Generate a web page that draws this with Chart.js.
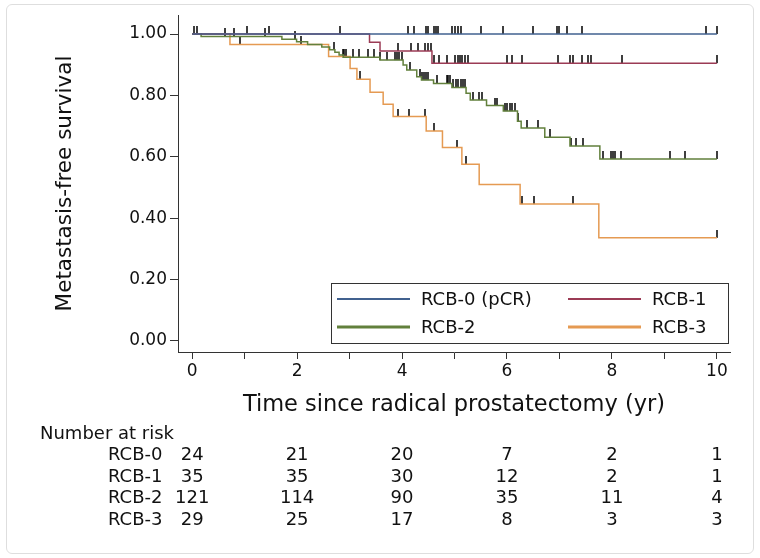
<!DOCTYPE html>
<html>
<head>
<meta charset="utf-8">
<script src="https://cdn.jsdelivr.net/npm/chart.js@4"></script>
<style>
    html, body { margin: 0; padding: 0; background: #fff; }
    #wrap { position: relative; width: 760px; height: 558px; }
    #c { position: absolute; left: 0; top: 0; }
    #frame { position: absolute; left: 6px; top: 4px; width: 746px; height: 548px;
             border: 1px solid #dedede; border-radius: 6px; pointer-events: none; }
</style>
</head>
<body>
<div id="wrap">
    <canvas id="c" width="760" height="558"></canvas>
    <div id="frame"></div>
</div>
<script>
(function () {
    "use strict";

    // groups and colours
    const groupNames = ["RCB-0 (pCR)", "RCB-1", "RCB-2", "RCB-3"];
    const groupColors = ["#41618f", "#9b3b55", "#62803c", "#e59a52"];

    // step curves: time (yr) and survival after each step
    const rcb0Times = [0, 10];
    const rcb0Surv = [1, 1];
    const rcb1Times = [0, 3.38, 3.58, 4.57, 10];
    const rcb1Surv = [1, 0.973, 0.945, 0.905, 0.905];
    const rcb2Times = [0, 0.17, 1.71, 1.99, 2.2, 2.47, 2.62, 2.72, 2.8, 2.88, 3.58, 4.02, 4.09, 4.28, 4.37,
        4.6, 4.95, 5.22, 5.3, 5.61, 5.93, 6.2, 6.27, 6.72, 7.2, 7.77, 10];
    const rcb2Surv = [1, 0.992, 0.983, 0.975, 0.966, 0.958, 0.949, 0.941, 0.932, 0.924, 0.915, 0.899, 0.883, 0.861, 0.85,
        0.839, 0.826, 0.807, 0.785, 0.767, 0.749, 0.716, 0.694, 0.664, 0.635, 0.593, 0.593];
    const rcb3Times = [0, 0.72, 2.6, 3.01, 3.14, 3.39, 3.64, 3.83, 4.46, 4.77, 5.14, 5.47, 6.25, 7.75, 10];
    const rcb3Surv = [1, 0.966, 0.927, 0.888, 0.853, 0.81, 0.771, 0.731, 0.684, 0.63, 0.576, 0.51, 0.446, 0.336, 0.336];

    // censoring times
    const rcb0Censor = [0.04, 1.05, 1.47, 2.82, 4.11, 4.23, 4.46, 4.5, 4.61, 4.65, 4.69, 4.96, 5.0, 5.07, 5.12,
        5.5, 5.92, 6.49, 6.95, 6.99, 7.14, 7.43, 9.8, 10];
    const rcb1Censor = [3.93, 4.18, 4.31, 4.44, 4.5, 4.55, 4.6, 4.71, 4.85, 5.0, 5.07, 5.1, 5.14, 5.2, 5.26,
        6.0, 6.09, 6.28, 6.97, 7.2, 7.26, 7.42, 7.55, 7.6, 8.2, 10];
    const rcb2Censor = [0.09, 0.62, 0.79, 1.39, 1.96, 2.7, 2.88, 2.9, 2.93, 3.06, 3.17, 3.36, 3.46, 3.58, 3.71,
        3.87, 3.9, 3.95, 4.0, 4.15, 4.34, 4.38, 4.42, 4.46, 4.5, 4.66, 4.85, 4.88, 4.91, 4.97, 5.02, 5.07,
        5.12, 5.16, 5.2, 5.36, 5.46, 5.52, 5.77, 5.8, 5.96, 6.0, 6.05, 6.1, 6.15, 6.21, 6.39, 6.6, 6.82,
        7.22, 7.31, 7.44, 7.83, 7.99, 8.02, 8.06, 8.18, 9.1, 9.39, 10];
    const rcb3Censor = [0.91, 2.07, 3.2, 3.93, 4.13, 4.44, 4.6, 5.04, 5.22, 6.29, 6.51, 7.26, 10];

    // axes
    const xTickValues = [0, 1, 2, 3, 4, 5, 6, 7, 8, 9, 10];
    const yTickValues = [0, 0.2, 0.4, 0.6, 0.8, 1.0];

    // number at risk table
    const riskTimes = [0, 2, 4, 6, 8, 10];
    const riskLabels = ["RCB-0", "RCB-1", "RCB-2", "RCB-3"];
    const risk0 = [24, 21, 20, 7, 2, 1];
    const risk1 = [35, 35, 30, 12, 2, 1];
    const risk2 = [121, 114, 90, 35, 11, 4];
    const risk3 = [29, 25, 17, 8, 3, 3];

    const FONT = "'DejaVu Sans', 'Liberation Sans', sans-serif";
    const curves = [[rcb0Times, rcb0Surv], [rcb1Times, rcb1Surv], [rcb2Times, rcb2Surv], [rcb3Times, rcb3Surv]];
    const censors = [rcb0Censor, rcb1Censor, rcb2Censor, rcb3Censor];
    const riskRows = [risk0, risk1, risk2, risk3];

    function survAt(times, surv, t) {
        let s = surv[0];
        for (let i = 0; i < times.length; i++) {
            if (times[i] <= t) s = surv[i];
        }
        return s;
    }

    // censor mark: short vertical tick standing on the curve
    const tick = document.createElement("canvas");
    tick.width = 2;
    tick.height = 16;
    const tctx = tick.getContext("2d");
    tctx.fillStyle = "#000";
    tctx.fillRect(0.25, 0, 1.5, 8);

    const datasets = [];
    curves.forEach(([times, surv], i) => {
        datasets.push({
            label: groupNames[i],
            data: times.map((t, k) => ({ x: t, y: surv[k] })),
            borderColor: groupColors[i],
            borderWidth: 1.5,
            stepped: "before",
            pointRadius: 0,
            fill: false,
            showLine: true
        });
    });
    censors.forEach((list, i) => {
        const [times, surv] = curves[i];
        datasets.push({
            label: groupNames[i] + " censored",
            data: list.map(t => ({ x: t, y: survAt(times, surv, t) })),
            showLine: false,
            pointStyle: tick,
            pointRadius: 3
        });
    });

    const legendBox = {
        id: "legendBox",
        afterDraw(chart) {
            const ctx = chart.ctx;
            ctx.save();
            ctx.fillStyle = "#fff";
            ctx.fillRect(331, 283, 398, 60);
            ctx.strokeStyle = "#333";
            ctx.lineWidth = 1;
            ctx.strokeRect(331.5, 283.5, 397, 60);
            const spots = [[337, 299, 2], [568, 299, 2], [337, 327, 3], [568, 327, 3]];
            ctx.font = "18px " + FONT;
            ctx.textBaseline = "middle";
            ctx.textAlign = "left";
            spots.forEach(([x, y, w], i) => {
                ctx.strokeStyle = groupColors[i];
                ctx.lineWidth = w;
                ctx.beginPath();
                ctx.moveTo(x, y);
                ctx.lineTo(x + 73, y);
                ctx.stroke();
                ctx.fillStyle = "#111";
                ctx.fillText(chart.data.datasets[i].label, x + 84, y + 1);
            });
            ctx.restore();
        }
    };

    const riskTable = {
        id: "riskTable",
        afterDraw(chart) {
            const ctx = chart.ctx;
            const xs = chart.scales.x;
            ctx.save();
            ctx.fillStyle = "#111";
            ctx.font = "18px " + FONT;
            ctx.textBaseline = "middle";
            ctx.textAlign = "left";
            ctx.fillText("Number at risk", 40, 434);
            const rowY = [455, 477, 498, 520];
            riskRows.forEach((row, r) => {
                ctx.textAlign = "left";
                ctx.fillText(riskLabels[r], 108, rowY[r]);
                ctx.textAlign = "center";
                row.forEach((n, k) => {
                    ctx.fillText(String(n), xs.getPixelForValue(riskTimes[k]), rowY[r]);
                });
            });
            ctx.restore();
        }
    };

    new Chart(document.getElementById("c"), {
        type: "line",
        data: { datasets },
        plugins: [legendBox, riskTable],
        options: {
            responsive: false,
            animation: false,
            events: [],
            layout: { padding: { top: 15, right: 30, left: 0, bottom: 136 } },
            plugins: { legend: { display: false }, tooltip: { enabled: false } },
            scales: {
                x: {
                    type: "linear",
                    min: -0.27,
                    max: 10.25,
                    afterBuildTicks: (s) => { s.ticks = xTickValues.map(v => ({ value: v })); },
                    afterFit: (s) => { s.height = 70; },
                    ticks: {
                        autoSkip: false,
                        maxRotation: 0,
                        padding: 2,
                        color: "#111",
                        font: { family: FONT, size: 17 },
                        callback: (v) => (v % 2 === 0 ? String(v) : "")
                    },
                    grid: { drawOnChartArea: false, drawTicks: true, tickLength: 7, color: "#333" },
                    border: { display: true, color: "#333", width: 1 },
                    title: {
                        display: true,
                        text: "Time since radical prostatectomy (yr)",
                        color: "#111",
                        font: { family: FONT, size: 22.5 },
                        padding: { top: 0, bottom: 3 }
                    }
                },
                y: {
                    type: "linear",
                    min: -0.036,
                    max: 1.062,
                    afterBuildTicks: (s) => { s.ticks = yTickValues.map(v => ({ value: v })); },
                    afterFit: (s) => { s.width = 178; },
                    ticks: {
                        padding: 3,
                        color: "#111",
                        font: { family: FONT, size: 17 },
                        callback: (v) => Number(v).toFixed(2)
                    },
                    grid: { drawOnChartArea: false, drawTicks: true, tickLength: 8, color: "#333" },
                    border: { display: true, color: "#333", width: 1 },
                    title: {
                        display: true,
                        text: "Metastasis-free survival",
                        color: "#111",
                        font: { family: FONT, size: 21.5 },
                        padding: { top: 53, bottom: 0 }
                    }
                }
            }
        }
    });
})();
</script>
</body>
</html>
